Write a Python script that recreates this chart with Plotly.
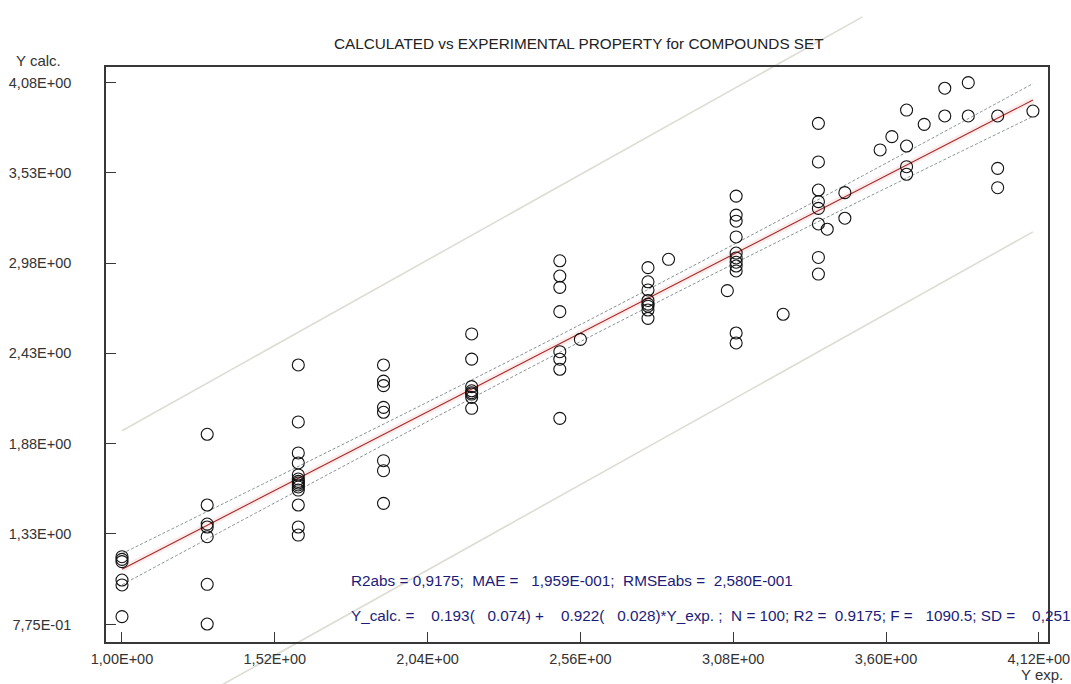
import plotly.graph_objects as go

W, H = 1071, 684
# plot frame in pixels: left, top, right, bottom
FL, FT, FR, FB = 106, 67, 1048, 642
x_range = [0.9456, 4.1513]
y_range = [0.6714, 4.1744]

x_tickvals = [1.00, 1.52, 2.04, 2.56, 3.08, 3.60, 4.12]
x_ticktext = ["1,00E+00", "1,52E+00", "2,04E+00", "2,56E+00", "3,08E+00", "3,60E+00", "4,12E+00"]
y_tickvals = [0.775, 1.33, 1.88, 2.43, 2.98, 3.53, 4.08]
y_ticktext = ["7,75E-01", "1,33E+00", "1,88E+00", "2,43E+00", "2,98E+00", "3,53E+00", "4,08E+00"]

x_exp = (
    [1.00] * 6 + [1.29] * 7 + [1.60] * 14 + [1.89] * 8 + [2.19] * 8 + [2.49] * 8 + [2.56]
    + [2.79] * 8 + [2.86] + [3.06] + [3.09] * 11 + [3.25] + [3.37] * 8
    + [3.40, 3.46, 3.46]
    + [3.58, 3.62, 3.67, 3.67, 3.67, 3.67, 3.73, 3.80, 3.80, 3.88, 3.88, 3.98, 3.98, 3.98, 4.10]
)
y_calc = (
    [1.191, 1.175, 1.161, 1.049, 1.019, 0.826]
    + [1.937, 1.506, 1.390, 1.372, 1.313, 1.023, 0.781]
    + [2.359, 2.012, 1.823, 1.762, 1.689, 1.664, 1.650, 1.640, 1.628, 1.616, 1.597, 1.506, 1.372, 1.323]
    + [2.359, 2.261, 2.233, 2.101, 2.071, 1.776, 1.715, 1.516]
    + [2.548, 2.395, 2.227, 2.202, 2.190, 2.182, 2.162, 2.095]
    + [2.994, 2.901, 2.832, 2.684, 2.440, 2.394, 2.333, 2.034]
    + [2.515]
    + [2.952, 2.866, 2.816, 2.752, 2.730, 2.717, 2.694, 2.643]
    + [3.003]
    + [2.812]
    + [3.388, 3.272, 3.235, 3.139, 3.041, 3.011, 2.985, 2.962, 2.932, 2.554, 2.493]
    + [2.668]
    + [3.831, 3.596, 3.425, 3.354, 3.313, 3.218, 3.014, 2.913]
    + [3.186, 3.409, 3.253]
    + [3.669, 3.750, 3.912, 3.693, 3.567, 3.521, 3.825, 4.045, 3.876, 4.079, 3.876, 3.876, 3.557, 3.439, 3.906]
)

# regression y = b0 + b1*x
b0, b1 = 0.193, 0.922
fit_x = [min(x_exp), max(x_exp)]
# confidence band half-widths
band_x = [1.00, 1.50, 2.00, 2.50, 3.00, 3.50, 4.10]
band_half = [0.095, 0.076, 0.060, 0.052, 0.057, 0.072, 0.100]
# outer prediction lines (end points)
upper_x = [1.00, 3.52]
upper_y = [1.958, 4.480]
lower_x = [1.00, 4.10]
lower_y = [0.070, 3.170]

title_text = "CALCULATED vs EXPERIMENTAL PROPERTY for COMPOUNDS SET"
stats1 = "R2abs = 0,9175;  MAE =   1,959E-001;  RMSEabs =  2,580E-001"
stats2 = ("Y_calc. =    0.193(   0.074) +    0.922(   0.028)*Y_exp. ;  N = 100; "
          "R2 =  0.9175; F =   1090.5; SD =    0,251")

def nb(s):
    return s.replace(" ", "\u00a0")

# full-figure axes (x/y) with the same data scale as the framed axes (x2/y2)
ppx = (FR - FL) / (x_range[1] - x_range[0])
ppy = (FB - FT) / (y_range[1] - y_range[0])
full_x_range = [x_range[0] - FL / ppx, x_range[1] + (W - FR) / ppx]
full_y_range = [y_range[0] - (H - FB) / ppy, y_range[1] + FT / ppy]

fit_y = [b0 + b1 * v for v in fit_x]
band_up = [b0 + b1 * v + h for v, h in zip(band_x, band_half)]
band_lo = [b0 + b1 * v - h for v, h in zip(band_x, band_half)]

fig = go.Figure()
fig.add_trace(go.Scatter(x=upper_x, y=upper_y, mode="lines", xaxis="x", yaxis="y",
                         line=dict(color="#dedcd4", width=1.6), hoverinfo="skip"))
fig.add_trace(go.Scatter(x=lower_x, y=lower_y, mode="lines", xaxis="x", yaxis="y",
                         line=dict(color="#dedcd4", width=1.6), hoverinfo="skip"))
fig.add_trace(go.Scatter(x=fit_x, y=fit_y, mode="lines", xaxis="x2", yaxis="y2",
                         line=dict(color="rgba(235,170,170,0.22)", width=6), hoverinfo="skip"))
fig.add_trace(go.Scatter(x=band_x, y=band_up, mode="lines", line_shape="spline", xaxis="x2", yaxis="y2",
                         line=dict(color="#7a8488", width=0.9, dash="3px,2px"), hoverinfo="skip"))
fig.add_trace(go.Scatter(x=band_x, y=band_lo, mode="lines", line_shape="spline", xaxis="x2", yaxis="y2",
                         line=dict(color="#7a8488", width=0.9, dash="3px,2px"), hoverinfo="skip"))
fig.add_trace(go.Scatter(x=fit_x, y=fit_y, mode="lines", xaxis="x2", yaxis="y2",
                         line=dict(color="#a82828", width=1.1), hoverinfo="skip"))
fig.add_trace(go.Scatter(x=x_exp, y=y_calc, mode="markers", xaxis="x2", yaxis="y2",
                         marker=dict(symbol="circle-open", size=12, color="#111111",
                                     line=dict(width=1.1, color="#111111"))))

FONT = "Liberation Sans, Arial, sans-serif"
axis_font = dict(family=FONT, size=14.5, color="#333333")
label_font = dict(family=FONT, size=15, color="#333333")
stats_font = dict(family=FONT, size=15.3, color="#1c1c78")
fig.update_layout(
    width=W, height=H, showlegend=False,
    margin=dict(l=0, r=0, t=0, b=0, pad=0),
    paper_bgcolor="white", plot_bgcolor="rgba(0,0,0,0)",
    xaxis=dict(domain=[0, 1], range=full_x_range, visible=False, anchor="y", fixedrange=True),
    yaxis=dict(domain=[0, 1], range=full_y_range, visible=False, anchor="x", fixedrange=True),
    xaxis2=dict(domain=[FL / W, FR / W], range=x_range, tickvals=x_tickvals, ticktext=x_ticktext,
                anchor="y2", ticks="inside", ticklen=10, tickwidth=1.2, tickcolor="#383838",
                showline=True, linecolor="#383838", linewidth=1.6, mirror=True,
                showgrid=False, zeroline=False, tickfont=axis_font, ticklabelstandoff=3,
                automargin=False),
    yaxis2=dict(domain=[1 - FB / H, 1 - FT / H], range=y_range, tickvals=y_tickvals, ticktext=y_ticktext,
                anchor="x2", ticks="inside", ticklen=10, tickwidth=1.2, tickcolor="#383838",
                showline=True, linecolor="#383838", linewidth=1.6, mirror=True,
                showgrid=False, zeroline=False, tickfont=axis_font, ticklabelstandoff=30,
                automargin=False),
    annotations=[
        dict(text=title_text, xref="paper", yref="paper", x=579 / W, y=1 - 43 / H,
             xanchor="center", yanchor="middle", showarrow=False,
             font=dict(family=FONT, size=15.3, color="#222222")),
        dict(text="Y calc.", xref="paper", yref="paper", x=38 / W, y=1 - 61 / H,
             xanchor="center", yanchor="middle", showarrow=False, font=label_font),
        dict(text="Y exp.", xref="paper", yref="paper", x=1042 / W, y=1 - 674 / H,
             xanchor="center", yanchor="middle", showarrow=False, font=label_font),
        dict(text=nb(stats1), xref="paper", yref="paper", x=349 / W, y=1 - 580 / H,
             xanchor="left", yanchor="middle", showarrow=False, font=stats_font),
        dict(text=nb(stats2), xref="paper", yref="paper", x=349 / W, y=1 - 615 / H,
             xanchor="left", yanchor="middle", showarrow=False, font=stats_font),
    ],
)

post = ("document.documentElement.style.margin='0';document.body.style.margin='0';"
        "document.body.style.padding='0';document.body.style.overflow='hidden';"
        "document.documentElement.style.overflow='hidden';"
        "var gd=document.getElementsByClassName('plotly-graph-div')[0];"
        "gd.style.width='1071px';gd.style.height='684px';"
        "Plotly.relayout(gd,{width:1071,height:684});")
fig.write_html("out.html", config={"responsive": False, "displayModeBar": False}, post_script=post)
